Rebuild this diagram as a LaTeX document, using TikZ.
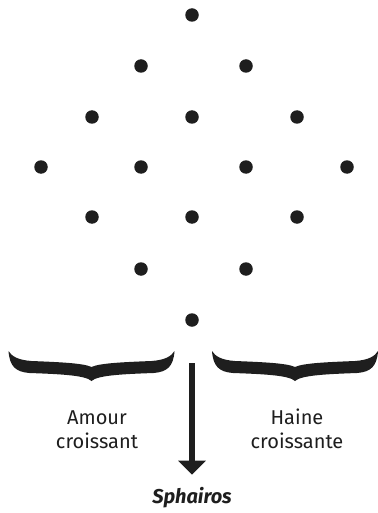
\documentclass[tikz,border=0pt]{standalone}
\usepackage{fontspec}
\setmainfont{Fira Sans}
\usetikzlibrary{arrows.meta}

\definecolor{ink}{RGB}{30,30,30}

\tikzset{
    dot/.style={circle, fill=ink, inner sep=0pt, minimum size=13.5pt},
    lbl/.style={align=center, text=ink, font=\fontsize{20}{24}\selectfont, inner sep=0pt},
    bracket/.pic={
        \fill[ink] (-83,-30) .. controls (-82,-15) and (-76,-9) .. (-62,-8)
            .. controls (-35,-7) and (-6,-6) .. (0,0)
            .. controls (6,-6) and (35,-7) .. (62,-8)
            .. controls (76,-9) and (82,-15) .. (83,-30)
            .. controls (80,-25) and (74,-21) .. (60,-20)
            .. controls (35,-19) and (8,-18) .. (0,-14)
            .. controls (-8,-18) and (-35,-19) .. (-60,-20)
            .. controls (-74,-21) and (-80,-25) .. (-83,-30) -- cycle;
    }
}

\begin{document}
\begin{tikzpicture}[x=1pt, y=-1pt]
    \useasboundingbox (0,0) rectangle (377,513);
    % the sixteen dots
    \foreach \px/\py [count=\i] in {192/15, 141/66, 246/66, 92/117, 192/117, 297/117,
        41/167, 141/167, 246/167, 347/167, 92/217, 192/217, 297/217, 141/269, 246/269, 192/320}
        \node[dot] (d\i) at (\px,\py) {};
    % braces
    \pic at (91.5,381) {bracket};
    \pic at (295,381) {bracket};
    \node[lbl, anchor=base] (amour) at (97,448) {Amour\\croissant};
    \node[lbl, anchor=base] (haine) at (297,448) {Haine\\croissante};
    \node[lbl, anchor=base, font=\fontsize{20}{24}\selectfont\bfseries\itshape] (sph) at (192,503) {Sphairos};
    \coordinate (src) at (192,363);
    \draw[ink, line width=6pt, -{Triangle[width=27pt 0 0, length=14pt 0 0]}] (src) -- ([yshift=12pt]sph.north);
\end{tikzpicture}
\end{document}
